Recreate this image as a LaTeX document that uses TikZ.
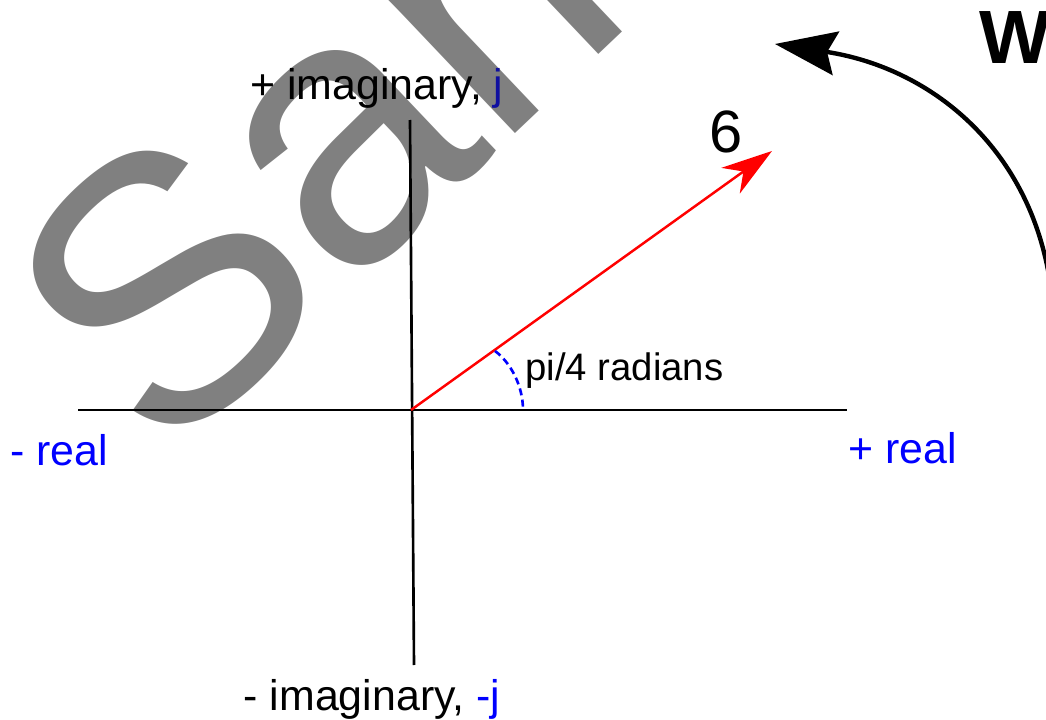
\documentclass[tikz,border=0pt]{standalone}
\usepackage{fontspec}
\setmainfont{Liberation Sans}
\usepackage{xcolor}
\usetikzlibrary{arrows.meta}

\definecolor{wmgray}{RGB}{128,128,128}
\definecolor{jnavy}{RGB}{16,16,160}

\begin{document}
\begin{tikzpicture}[x=0.02cm, y=-0.02cm,
  axis/.style={black, line width=1.5pt},
  axislabel/.style={font=\fontsize{24.4}{28}\selectfont, inner sep=0pt},
  phasor/.style={red, line width=1.4pt, -{Stealth[length=29pt, width=18pt, inset=9pt]}},
  anglemark/.style={blue, line width=1.5pt, dash pattern=on 4pt off 2.5pt},
  rotarrow/.style={black, line width=2.5pt, -{Stealth[length=35pt, width=25pt, inset=5pt]}}]
  \useasboundingbox (0,0) rectangle (1046,720);
  \clip (0,0) rectangle (1046,720);
  % watermark
  \node[rotate=43.5, anchor=base west, inner sep=0pt, text=wmgray,
    font=\fontsize{214}{230}\selectfont] (wm) at (163,468) {Sample};
  % axes
  \coordinate (O) at (411,410);
  \coordinate (reW) at (78,410);
  \coordinate (reE) at (847,410);
  \coordinate (imN) at (410,120);
  \coordinate (imS) at (414,665);
  \draw[axis] (reW) -- (reE);
  \draw[axis] (imN) -- (imS);
  % phasor and its angle
  \coordinate (tip) at (772,151);
  \draw[phasor] (O) -- (tip);
  \coordinate (angA) at (495,351);
  \coordinate (angB) at (523,410);
  \draw[anglemark] (angA) .. controls (510,362) and (523,385) .. (angB);
  % labels
  \node[axislabel, anchor=base] (imP) at (377,99) {+ imaginary, \textcolor{jnavy}{j}};
  \node[axislabel, anchor=base] (imM) at (372,710) {- imaginary, \textcolor{blue}{-j}};
  \node[axislabel, text=blue, anchor=base west] (reM) at (10,465) {- real};
  \node[axislabel, text=blue, anchor=base west] (reP) at (848,463) {+ real};
  \node[font=\fontsize{21.8}{26}\selectfont, inner sep=0pt, anchor=base west] (ang) at (525,380) {pi/4 radians};
  \node[font=\fontsize{34}{40}\selectfont, inner sep=0pt, anchor=base] (mag) at (726,153) {6};
  \node[font=\bfseries\fontsize{43}{50}\selectfont, inner sep=0pt, anchor=base west] (ttl) at (979,63) {W};
  % rotation
  \coordinate (rotS) at (1054,340);
  \coordinate (rotE) at (775,44);
  \draw[rotarrow] (rotS) .. controls (1056,170) and (945,70) .. (rotE);
\end{tikzpicture}
\end{document}
